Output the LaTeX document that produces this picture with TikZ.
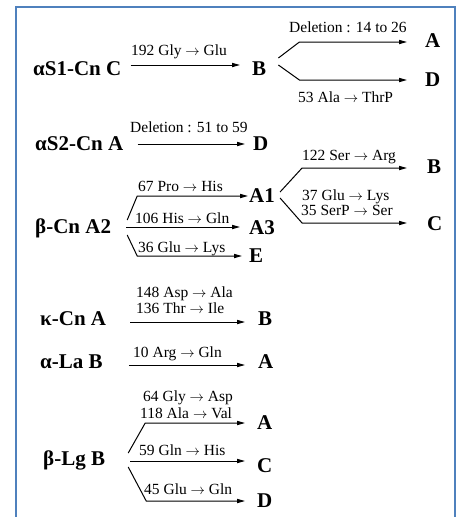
\documentclass[tikz,border=0pt]{standalone}
\usepackage{fontspec}
\setmainfont{Liberation Serif}
\usetikzlibrary{arrows.meta,calc}
\definecolor{framebl}{RGB}{79,129,189}
\newcommand{\subst}{$\rightarrow$}
\tikzset{
  prot/.style={font=\fontsize{21}{23}\selectfont\bfseries, inner sep=0pt, anchor=base west},
  mut/.style={font=\fontsize{15.5}{16}\selectfont, inner sep=0pt, anchor=base west,
              text height=10pt, text depth=2pt},
  arr/.style={-{Triangle[length=8pt,width=4.2pt]}, line width=1pt},
}
\begin{document}
\begin{tikzpicture}[x=1pt,y=-1pt]
\useasboundingbox (0,0) rectangle (456,517);
\fill[white] (0,0) rectangle (456,517);
% frame
\draw[framebl, line width=2pt] (16,517) -- (16,7) -- (455,7) -- (455,517);

% alpha-s1 casein
\node[prot] (s1)  at (33,75)  {αS1-Cn C};
\node[prot] (s1B) at (252,75) {B};
\node[prot] (s1A) at (425,47) {A};
\node[prot] (s1D) at (425,86) {D};
\node[mut] (m1) at (131,55)  {192 Gly \subst{} Glu};
\node[mut] (m2) at (289,32)  {Deletion : 14 to 26};
\node[mut] (m3) at (298,102) {53 Ala \subst{} ThrP};
\draw[arr] ($(s1.base east)+(9,-10)$) -- ($(s1B.base west)+(-12,-10)$);
\draw[arr] ($(s1B.base east)+(12,-17)$) -- ($(s1B.base east)+(33,-33)$) -- ($(s1A.base west)+(-18,-5)$);
\draw[arr] ($(s1B.base east)+(12,-10)$) -- ($(s1B.base east)+(33,5)$) -- ($(s1D.base west)+(-18,-6)$);

% alpha-s2 casein
\node[prot] (s2)  at (35,150)  {αS2-Cn A};
\node[prot] (s2D) at (253,150) {D};
\node[mut] (m4) at (130,132) {Deletion : 51 to 59};
\draw[arr] ($(s2.base east)+(14,-6)$) -- ($(s2D.base west)+(-8,-6)$);

% beta casein
\node[prot] (b)   at (35,233)  {β-Cn A2};
\node[prot] (bA1) at (249,202) {A1};
\node[prot] (bA3) at (249,234) {A3};
\node[prot] (bE)  at (249,262) {E};
\node[prot] (bB)  at (427,173) {B};
\node[prot] (bC)  at (427,230) {C};
\node[mut] (m5)  at (302,160) {122 Ser \subst{} Arg};
\node[mut] (m6)  at (138,191) {67 Pro \subst{} His};
\node[mut] (m7)  at (302,200) {37 Glu \subst{} Lys};
\node[mut] (m8)  at (301,215) {35 SerP \subst{} Ser};
\node[mut] (m9)  at (135,223) {106 His \subst{} Gln};
\node[mut] (m10) at (138,252) {36 Glu \subst{} Lys};
\draw[arr] ($(b.base east)+(16,-13)$) -- ($(b.base east)+(26,-37)$) -- ($(bA1.base west)+(-1,-6)$);
\draw[arr] ($(b.base east)+(15,-6)$) -- ($(bA3.base west)+(-9,-7)$);
\draw[arr] ($(b.base east)+(16,2)$) -- ($(b.base east)+(26,23)$) -- ($(bE.base west)+(-7,-6)$);
\draw[arr] ($(bA1.base east)+(5,-10)$) -- ($(bA1.base east)+(27,-34)$) -- ($(bB.base west)+(-20,-5)$);
\draw[arr] ($(bA1.base east)+(5,-4)$) -- ($(bA1.base east)+(27,21)$) -- ($(bC.base west)+(-20,-7)$);

% kappa casein
\node[prot] (k)  at (40,325)  {κ-Cn A};
\node[prot] (kB) at (258,325) {B};
\node[mut] (m11) at (136,297) {148 Asp \subst{} Ala};
\node[mut] (m12) at (136,313) {136 Thr \subst{} Ile};
\draw[arr] ($(k.base east)+(24,-3)$) -- ($(kB.base west)+(-13,-3)$);

% alpha-lactalbumin
\node[prot] (la)  at (40,368)  {α-La B};
\node[prot] (laA) at (258,368) {A};
\node[mut] (m13) at (133,357) {10 Arg \subst{} Gln};
\draw[arr] ($(la.base east)+(26,-3)$) -- ($(laA.base west)+(-13,-3)$);

% beta-lactoglobulin
\node[prot] (lg)  at (43,465)  {β-Lg B};
\node[prot] (lgA) at (257,429) {A};
\node[prot] (lgC) at (257,472) {C};
\node[prot] (lgD) at (257,507) {D};
\node[mut] (m14) at (143,401) {64 Gly \subst{} Asp};
\node[mut] (m15) at (140,418) {118 Ala \subst{} Val};
\node[mut] (m16) at (139,455) {59 Gln \subst{} His};
\node[mut] (m17) at (144,494) {45 Glu \subst{} Gln};
\draw[arr] ($(lg.base east)+(23,-12)$) -- ($(lg.base east)+(40,-42)$) -- ($(lgA.base west)+(-12,-6)$);
\draw[arr] ($(lg.base east)+(25,-4)$) -- ($(lgC.base west)+(-12,-11)$);
\draw[arr] ($(lg.base east)+(23,2)$) -- ($(lg.base east)+(41,36)$) -- ($(lgD.base west)+(-12,-6)$);
\end{tikzpicture}
\end{document}
